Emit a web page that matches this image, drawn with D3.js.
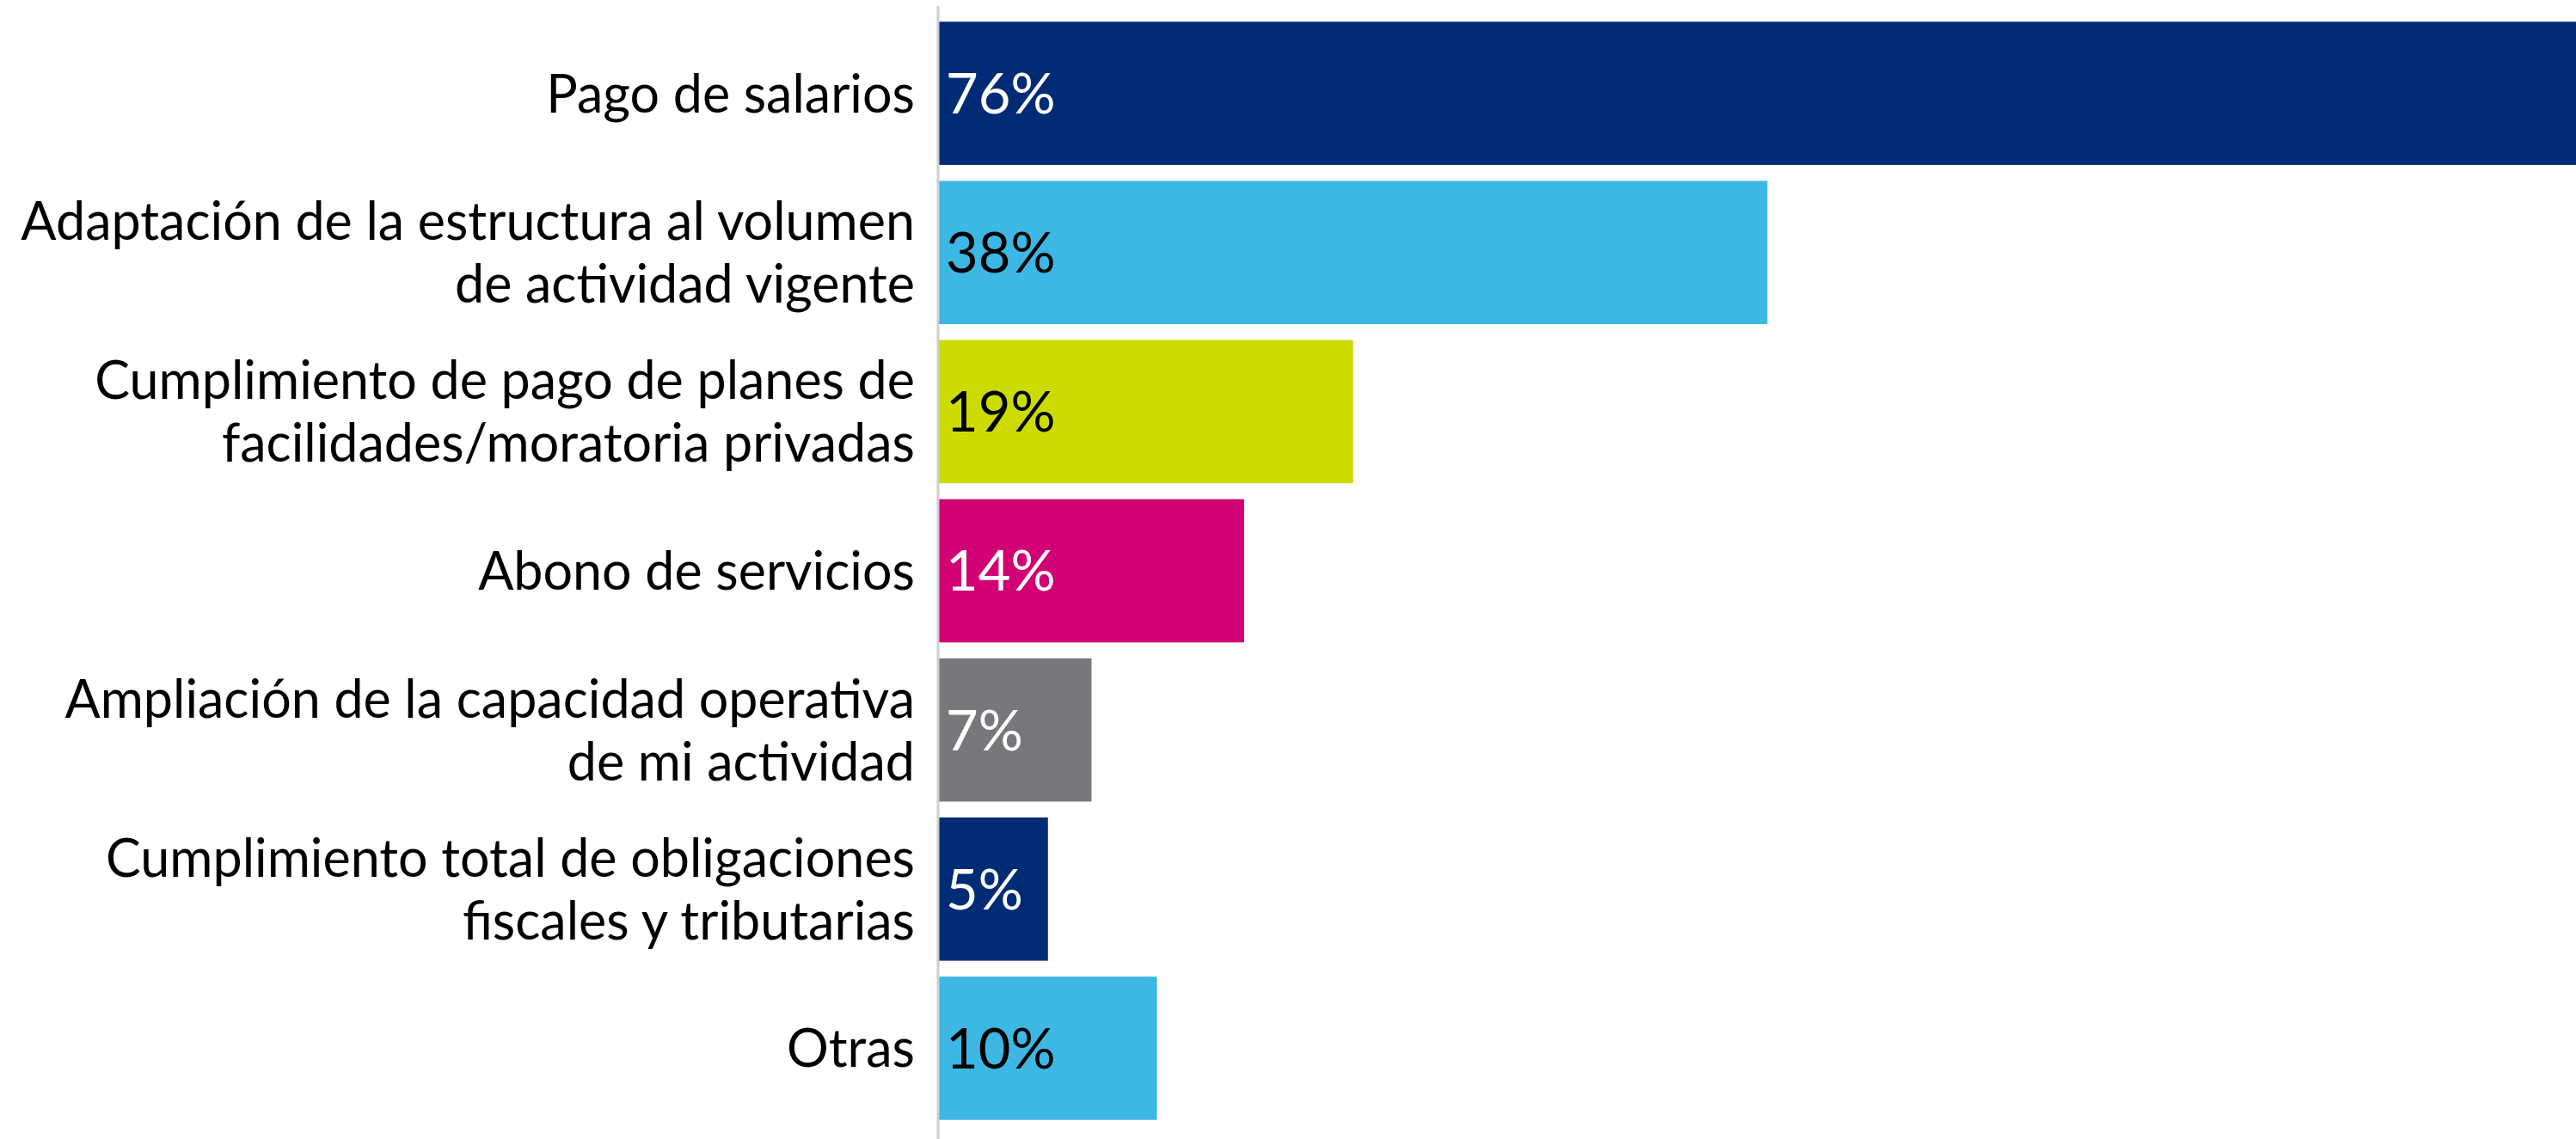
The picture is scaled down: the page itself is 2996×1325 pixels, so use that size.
<!DOCTYPE html>
<html>
<head>
<meta charset="utf-8">
<script src="https://cdn.jsdelivr.net/npm/d3@7"></script>
<style>
  body { margin: 0; background: #fff; }
  svg { display: block; }
  text { font-family: Lato, "Noto Sans", sans-serif; }
</style>
</head>
<body>
<svg id="chart"></svg>
<script>
// chart data
const categories = [
  ["Pago de salarios"],
  ["Adaptación de la estructura al volumen", "de actividad vigente"],
  ["Cumplimiento de pago de planes de", "facilidades/moratoria privadas"],
  ["Abono de servicios"],
  ["Ampliación de la capacidad operativa", "de mi actividad"],
  ["Cumplimiento total de obligaciones", "fiscales y tributarias"],
  ["Otras"]
]
const values = [76, 38, 19, 14, 7, 5, 10]
const colors = ["#002b75", "#3db7e4", "#cddc00", "#d10074", "#77787b", "#002b75", "#3db7e4"]
const valueText = ["#fff", "#000", "#000", "#fff", "#fff", "#fff", "#000"]

const width = 2996, height = 1325
const axisX = 1091

function draw() {
  let svg = d3.select("#chart").attr("width", width).attr("height", height)
  let rows = categories.map((c, i) => ({ i, lines: c, value: values[i] }))

  let y = d3.scaleBand()
    .domain(rows.map(d => d.i))
    .range([16, 1312])
    .paddingInner(0.1)
    .paddingOuter(0.05)

  // 76% runs past the right edge of the picture
  let x = d3.scaleLinear().domain([0, 76]).range([axisX + 1, 3019])

  svg.append("g").selectAll("rect")
    .data(rows).enter()
    .append("rect")
    .attr("x", x(0))
    .attr("y", d => y(d.i))
    .attr("width", d => x(d.value) - x(0))
    .attr("height", y.bandwidth())
    .attr("fill", d => colors[d.i])

  // vertical axis line
  svg.append("line")
    .attr("x1", axisX).attr("x2", axisX)
    .attr("y1", 7).attr("y2", height)
    .attr("stroke", "#cfcfcf")
    .attr("stroke-width", 3)

  // category labels, right aligned against the axis, one text per line
  let lineGap = 73
  let lines = rows.flatMap(d => d.lines.map((t, k) => ({ t, k, n: d.lines.length, i: d.i })))
  svg.append("g").selectAll("text")
    .data(lines).enter()
    .append("text")
    .attr("text-anchor", "end")
    .attr("font-size", 61)
    .attr("fill", "#000")
    .attr("x", 1064)
    .attr("y", s => y(s.i) + y.bandwidth() / 2 + (s.k - (s.n - 1) / 2) * lineGap)
    .attr("dy", "0.36em")
    .text(s => s.t)

  // value labels inside the bars
  svg.append("g").selectAll("text")
    .data(rows).enter()
    .append("text")
    .attr("x", x(0) + 8)
    .attr("y", d => y(d.i) + y.bandwidth() / 2)
    .attr("dy", "0.36em")
    .attr("font-size", 65)
    .attr("fill", d => valueText[d.i])
    .text(d => d.value + "%")
}

draw()
</script>
</body>
</html>
